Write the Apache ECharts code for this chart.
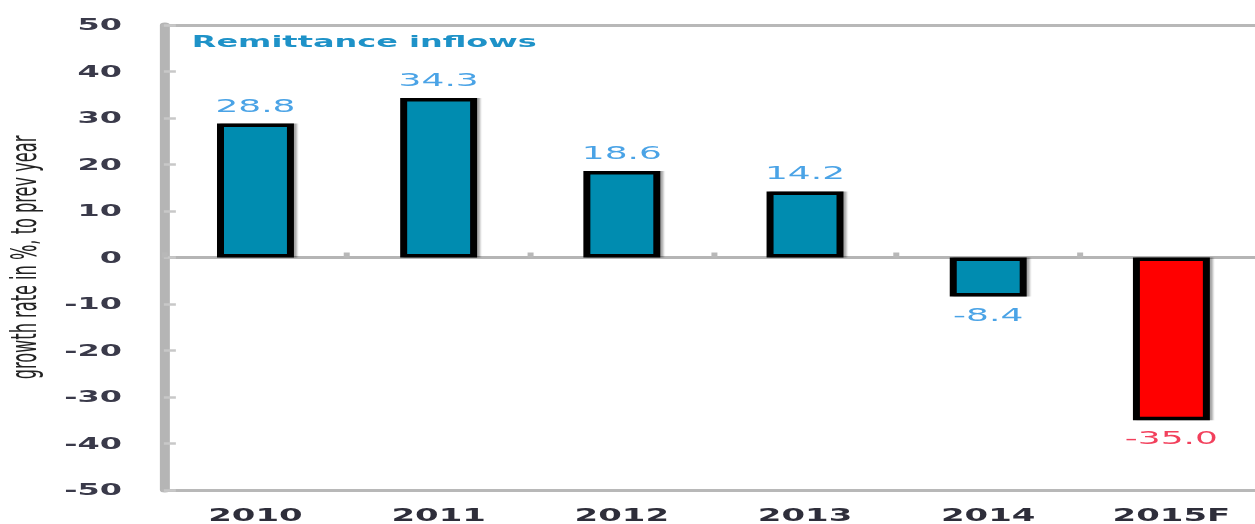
<!DOCTYPE html>
<html>
<head>
<meta charset="utf-8">
<script src="https://cdn.jsdelivr.net/npm/echarts@6/dist/echarts.min.js"></script>
<style>
html,body{margin:0;padding:0;overflow:hidden;background:#fff;width:1255px;height:524px;}
#chart{width:628px;height:524px;transform:scaleX(1.99841);transform-origin:0 0;}
</style>
</head>
<body>
<div id="chart"></div>
<script>
const categories = ['2010', '2011', '2012', '2013', '2014', '2015F'];
const growthValues = [28.8, 34.3, 18.6, 14.2, -8.4, -35.0];
const barColors = ['#008cb0', '#008cb0', '#008cb0', '#008cb0', '#008cb0', '#ff0000'];
const labelColors = ['#4aa3e6', '#4aa3e6', '#4aa3e6', '#4aa3e6', '#4aa3e6', '#f2405c'];
const titleText = 'Remittance inflows';
const yAxisName = 'growth rate in %, to prev year';

const chart = echarts.init(document.getElementById('chart'), null, {renderer: 'svg'});

const seriesData = growthValues.map((v, i) => ({
  value: v,
  itemStyle: {color: barColors[i]},
  label: {
    position: v < 0 ? 'bottom' : 'top',
    color: labelColors[i]
  }
}));

chart.setOption({
  animation: false,
  graphic: [{
    type: 'text',
    left: 96,
    top: 34,
    style: {
      text: titleText,
      fill: '#1e92c8',
      font: 'bold 16px "DejaVu Sans"'
    }
  }],
  grid: {
    left: 82, right: -4, top: 25, bottom: 34,
    outerBoundsMode: 'none',
    containLabel: false,
    show: false
  },
  xAxis: [{
    type: 'category',
    data: categories,
    axisLine: {onZero: true, lineStyle: {color: '#b5b5b5', width: 3}},
    axisTick: {show: true, inside: true, length: 5, lineStyle: {color: '#b8b8b8', width: 3}},
    axisLabel: {show: false}
  }, {
    type: 'category',
    data: categories,
    position: 'bottom',
    axisLine: {show: true, onZero: false, lineStyle: {color: '#b8b8b8', width: 3}},
    axisTick: {show: false},
    axisLabel: {
      margin: 16,
      color: '#2e2e3a',
      fontFamily: 'DejaVu Sans',
      fontWeight: 'bold',
      fontSize: 17
    }
  }, {
    type: 'category',
    data: categories,
    position: 'top',
    axisLine: {show: true, onZero: false, lineStyle: {color: '#b8b8b8', width: 3}},
    axisTick: {show: false},
    axisLabel: {show: false}
  }],
  yAxis: {
    type: 'value',
    min: -50, max: 50, interval: 10,
    name: yAxisName,
    nameLocation: 'middle',
    nameGap: 55,
    nameRotate: 90,
    nameTextStyle: {color: '#222', fontFamily: 'DejaVu Sans Condensed', fontSize: 18},
    axisLine: {show: true, lineStyle: {color: '#b5b5b5', width: 5}},
    axisTick: {show: true, inside: true, length: 6, lineStyle: {color: '#c8c8c8', width: 2.5}},
    splitLine: {show: false},
    axisLabel: {
      margin: 21,
      color: '#3a3a4a',
      fontFamily: 'DejaVu Sans',
      fontWeight: 'bold',
      fontSize: 16
    }
  },
  series: [{
    type: 'bar',
    xAxisIndex: 0,
    data: seriesData,
    barWidth: '42%',
    itemStyle: {
      borderColor: '#000',
      borderWidth: 3.5,
      shadowColor: 'rgba(0,0,0,0.35)',
      shadowBlur: 1,
      shadowOffsetX: 1.5
    },
    label: {
      show: true,
      distance: 9,
      fontFamily: 'DejaVu Sans',
      fontSize: 18,
      formatter: p => p.value.toFixed(1)
    }
  }]
});
</script>
</body>
</html>
